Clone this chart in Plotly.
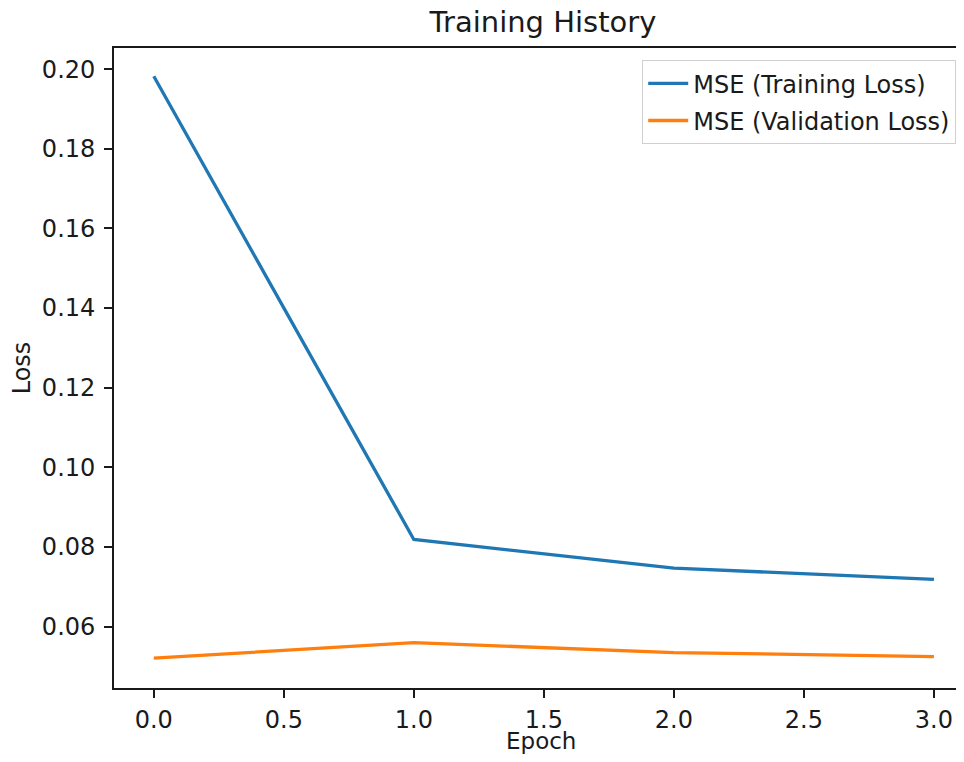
import plotly.graph_objects as go

epochs = [0, 1, 2, 3]
train_loss = [0.1982, 0.0819, 0.0747, 0.0719]
val_loss = [0.0521, 0.0560, 0.0535, 0.0525]
y_ticks = [0.06, 0.08, 0.10, 0.12, 0.14, 0.16, 0.18, 0.20]
x_ticks = [0.0, 0.5, 1.0, 1.5, 2.0, 2.5, 3.0]

FONT = "DejaVu Sans"
TXT = "#1a1a1a"

# The page body has an 8px margin, so the figure is drawn 8px in from the window edge.
W, H = 948, 746

fig = go.Figure()
fig.add_trace(go.Scatter(x=epochs, y=train_loss, mode="lines", name="MSE (Training Loss)",
                         line=dict(color="#1f77b4", width=3.3), legendgroup="a"))
fig.add_trace(go.Scatter(x=epochs, y=val_loss, mode="lines", name="MSE (Validation Loss)",
                         line=dict(color="#ff7f0e", width=3.3), legendgroup="b"))

axis_common = dict(showgrid=False, zeroline=False, showline=True, linecolor="#1a1a1a",
                   linewidth=1.8, ticks="outside", ticklen=8, tickwidth=1.8, tickcolor="#1a1a1a",
                   tickfont=dict(family=FONT, size=24, color=TXT), automargin=False)

fig.update_layout(
    width=W, height=H,
    margin=dict(l=106, r=0, t=40, b=66),
    paper_bgcolor="white", plot_bgcolor="white",
    font=dict(family=FONT, color=TXT),
    title=dict(text="Training History", x=535 / W, xref="container", xanchor="center",
               y=1 - 14 / H, yref="container", yanchor="middle",
               font=dict(family=FONT, size=29, color=TXT)),
    xaxis=dict(range=[-0.153, 3.0849], tickvals=x_ticks, ticktext=[f"{v:.1f}" for v in x_ticks],
               mirror=True, ticklabelstandoff=1, **axis_common),
    yaxis=dict(range=[0.04461, 0.2053], tickvals=y_ticks, ticktext=[f"{v:.2f}" for v in y_ticks],
               ticklabelstandoff=4,
               title=dict(text="Loss", font=dict(family=FONT, size=24, color=TXT), standoff=14),
               **axis_common),
    legend=dict(x=1.0, y=(680 - 52) / 640, xanchor="right", yanchor="top",
                bgcolor="rgba(255,255,255,0.8)", bordercolor="#d0d0d0", borderwidth=1.2,
                font=dict(family=FONT, size=24, color=TXT),
                traceorder="grouped", tracegroupgap=3, itemwidth=40),
    annotations=[dict(text="Epoch", xref="paper", yref="paper", x=(533 - 106) / 842,
                      y=(680 - 733) / 640, xanchor="center", yanchor="middle", showarrow=False,
                      font=dict(family=FONT, size=23, color=TXT))],
)

fig.write_html("out.html")
